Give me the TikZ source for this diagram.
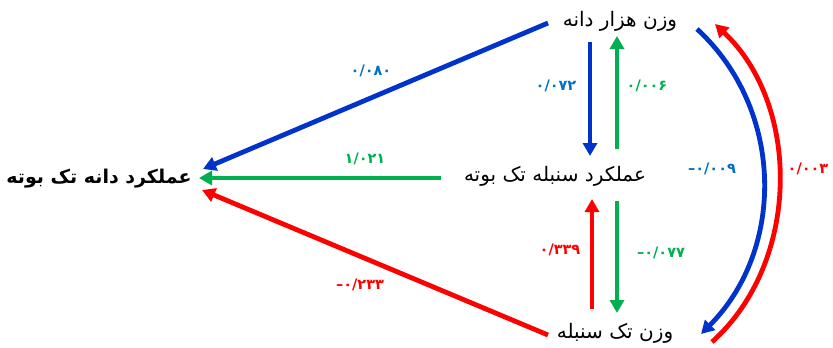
\documentclass[tikz,border=0pt]{standalone}
\usepackage{fontspec}
\usetikzlibrary{arrows.meta}
\TeXXeTstate=1
\newfontfamily\arabicfont[Script=Arabic]{DejaVu Sans}
\newfontfamily\numfont{DejaVu Sans}
\definecolor{cblue}{RGB}{0,51,204}
\definecolor{lblue}{RGB}{0,112,192}
\definecolor{cgreen}{RGB}{0,176,80}
\definecolor{cred}{RGB}{255,0,0}
\tikzset{
  term/.style={font=\arabicfont\fontsize{20}{24}\selectfont, inner sep=0pt},
  coef/.style={font=\numfont\bfseries\fontsize{14.5}{18}\selectfont, inner sep=0pt},
  arr/.style={line width=4.8pt, -{Triangle[length=13pt,width=14pt]}},
}
\begin{document}
\begin{tikzpicture}[x=1pt,y=-1pt]
\useasboundingbox (0,0) rectangle (833,348);
% nodes
\node[term] (top) at (620,21) {\beginR وزن هزار دانه\endR};
\node[term] (mid) at (555,176) {\beginR عملکرد سنبله تک بوته\endR};
\node[term] (bot) at (615,333) {\beginR وزن تک سنبله\endR};
\node[term, font=\arabicfont\bfseries\fontsize{19}{24}\selectfont] (left) at (99,179) {\beginR عملکرد دانه تک بوته\endR};
% connector end points
\coordinate (tL) at (548,23);
\coordinate (yL) at (203,169);
\coordinate (mL) at (441,178);
\coordinate (gL) at (199,178);
\coordinate (bL) at (548,335);
\coordinate (rL) at (202,190);
\coordinate (tD1) at (590,42);
\coordinate (mU1) at (590,156);
\coordinate (mD2) at (617,149);
\coordinate (tU2) at (617,36);
\coordinate (bU1) at (592,309);
\coordinate (mB1) at (592,199);
\coordinate (mB2) at (617,201);
\coordinate (bD2) at (617,313);
\coordinate (tR1) at (697,29);
\coordinate (bR1) at (701,334);
\coordinate (bR2) at (712,342);
\coordinate (tR2) at (715,24);
% arrows
\draw[arr, cblue] (tL) -- (yL);
\draw[arr, cgreen] (mL) -- (gL);
\draw[arr, cred] (bL) -- (rL);
\draw[arr, cblue] (tD1) -- (mU1);
\draw[arr, cgreen] (mD2) -- (tU2);
\draw[arr, cred] (bU1) -- (mB1);
\draw[arr, cgreen] (mB2) -- (bD2);
\draw[arr, cblue] (tR1) .. controls (785,110) and (785,250) .. (bR1);
\draw[arr, cred] (bR2) .. controls (801,262) and (801,105) .. (tR2);
% coefficients
\node[coef, text=lblue] (c1) at (371,71) {۰/۰۸۰};
\node[coef, text=lblue] (c2) at (556,86) {۰/۰۷۲};
\node[coef, text=cgreen] (c3) at (647,86) {۰/۰۰۶};
\node[coef, text=cgreen] (c4) at (365,159) {۱/۰۲۱};
\node[coef, text=lblue] (c5) at (712,169) {–۰/۰۰۹};
\node[coef, text=cred] (c6) at (808,169) {۰/۰۰۳};
\node[coef, text=cred] (c7) at (560,250) {۰/۳۳۹};
\node[coef, text=cgreen] (c8) at (661,253) {–۰/۰۷۷};
\node[coef, text=cred] (c9) at (360,285) {–۰/۲۳۳};
\end{tikzpicture}
\end{document}
